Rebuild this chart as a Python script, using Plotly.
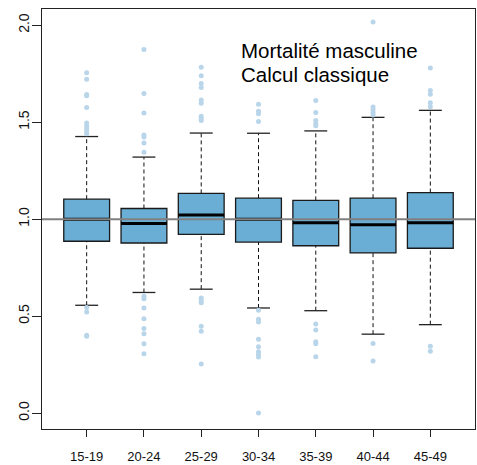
import plotly.graph_objects as go

# ---- data ----
groups = ["15-19", "20-24", "25-29", "30-34", "35-39", "40-44", "45-49"]
q1 = [0.886, 0.877, 0.922, 0.882, 0.863, 0.826, 0.850]
median = [1.000, 0.978, 1.022, 1.000, 0.981, 0.971, 0.981]
q3 = [1.103, 1.055, 1.133, 1.108, 1.097, 1.108, 1.137]
whisker_low = [0.556, 0.622, 0.639, 0.542, 0.528, 0.407, 0.456]
whisker_high = [1.426, 1.320, 1.444, 1.443, 1.455, 1.525, 1.561]
outliers = [
    [1.755, 1.721, 1.643, 1.636, 1.576, 1.496, 1.482, 1.468, 1.455, 1.441,
     0.545, 0.521, 0.402, 0.396],
    [1.875, 1.648, 1.547, 1.434, 1.424, 1.393, 1.345,
     0.602, 0.590, 0.542, 0.487, 0.436, 0.409, 0.357, 0.306],
    [1.783, 1.740, 1.700, 1.679, 1.615, 1.598, 1.530, 1.519, 1.509,
     0.593, 0.581, 0.569, 0.448, 0.422, 0.253],
    [1.593, 1.556, 1.544, 1.504,
     0.530, 0.484, 0.470, 0.381, 0.342, 0.316, 0.304, 0.289, 0.000],
    [1.612, 1.550, 1.509, 1.492, 1.482,
     0.460, 0.429, 0.368, 0.357, 0.291],
    [2.017, 1.578, 1.564, 1.550, 1.537,
     0.359, 0.268],
    [1.779, 1.663, 1.644, 1.600, 1.579,
     0.345, 0.319],
]
reference_level = 1.0
y_tick_values = [0.0, 0.5, 1.0, 1.5, 2.0]
y_tick_labels = ["0.0", "0.5", "1.0", "1.5", "2.0"]
title_lines = ["Mortalité masculine", "Calcul classique"]

# ---- styles ----
FONT = "Liberation Sans, Arial, sans-serif"
BOX_FILL = "#6aaed6"
BOX_LINE = "#1a1a1a"
OUT_COL = "#b9d5ea"
BOX_W = 0.8
CAP_HALF = 0.2

pos = list(range(len(groups)))

fig = go.Figure()

# boxes (no whiskers from plotly; drawn separately with dashes)
fig.add_trace(go.Box(
    x=pos, q1=q1, median=median, q3=q3,
    lowerfence=q1, upperfence=q3,
    width=BOX_W, whiskerwidth=0,
    fillcolor=BOX_FILL, line=dict(color=BOX_LINE, width=1.3),
    boxpoints=False, showlegend=False, hoverinfo="skip",
))

# dashed whiskers
wx, wy = [], []
for p, lo, a, b, hi in zip(pos, whisker_low, q1, q3, whisker_high):
    wx += [p, p, None, p, p, None]
    wy += [lo, a, None, b, hi, None]
fig.add_trace(go.Scatter(x=wx, y=wy, mode="lines",
                         line=dict(color="#111111", width=1, dash="4px,3px"),
                         showlegend=False, hoverinfo="skip"))

# caps
cx, cy = [], []
for p, lo, hi in zip(pos, whisker_low, whisker_high):
    cx += [p - CAP_HALF, p + CAP_HALF, None, p - CAP_HALF, p + CAP_HALF, None]
    cy += [lo, lo, None, hi, hi, None]
fig.add_trace(go.Scatter(x=cx, y=cy, mode="lines",
                         line=dict(color="#222222", width=1.3),
                         showlegend=False, hoverinfo="skip"))

# medians (thick)
mx, my = [], []
for p, m in zip(pos, median):
    mx += [p - BOX_W / 2, p + BOX_W / 2, None]
    my += [m, m, None]
fig.add_trace(go.Scatter(x=mx, y=my, mode="lines",
                         line=dict(color="#000000", width=3),
                         showlegend=False, hoverinfo="skip"))

# outliers
ox, oy = [], []
for p, vals in zip(pos, outliers):
    ox += [p] * len(vals)
    oy += vals
fig.add_trace(go.Scatter(x=ox, y=oy, mode="markers",
                         marker=dict(color=OUT_COL, size=5, line=dict(width=0)),
                         showlegend=False, hoverinfo="skip"))

fig.add_hline(y=reference_level, line=dict(color="#808080", width=2), layer="above")

fig.add_annotation(text=title_lines[0], xref="paper", yref="paper",
                   x=0.456, y=0.9005, xanchor="left", yanchor="middle",
                   showarrow=False, font=dict(family=FONT, size=20.5, color="#000000"))
fig.add_annotation(text=title_lines[1], xref="paper", yref="paper",
                   x=0.456, y=0.8436, xanchor="left", yanchor="middle",
                   showarrow=False, font=dict(family=FONT, size=20.5, color="#000000"))

fig.update_layout(
    width=477, height=465,
    margin=dict(l=42, r=1, t=9, b=34),
    paper_bgcolor="white", plot_bgcolor="white",
    font=dict(family=FONT, size=13, color="#111111"),
    showlegend=False,
)
fig.update_xaxes(
    range=[-0.78, 6.78], tickvals=pos, ticktext=groups,
    ticks="outside", ticklen=7, tickcolor="#222222", tickwidth=1,
    showgrid=False, zeroline=False,
    showline=True, linecolor="#222222", linewidth=1.3, mirror=True,
    ticklabelstandoff=8,
)
fig.update_yaxes(
    range=[-0.082, 2.0836], tickvals=y_tick_values, ticktext=y_tick_labels,
    tickangle=-90, tickfont=dict(size=14),
    ticks="outside", ticklen=9, tickcolor="#222222", tickwidth=1,
    showgrid=False, zeroline=False,
    showline=True, linecolor="#222222", linewidth=1.3, mirror=True,
    ticklabelstandoff=-3,
)

fig.write_html("out.html")
